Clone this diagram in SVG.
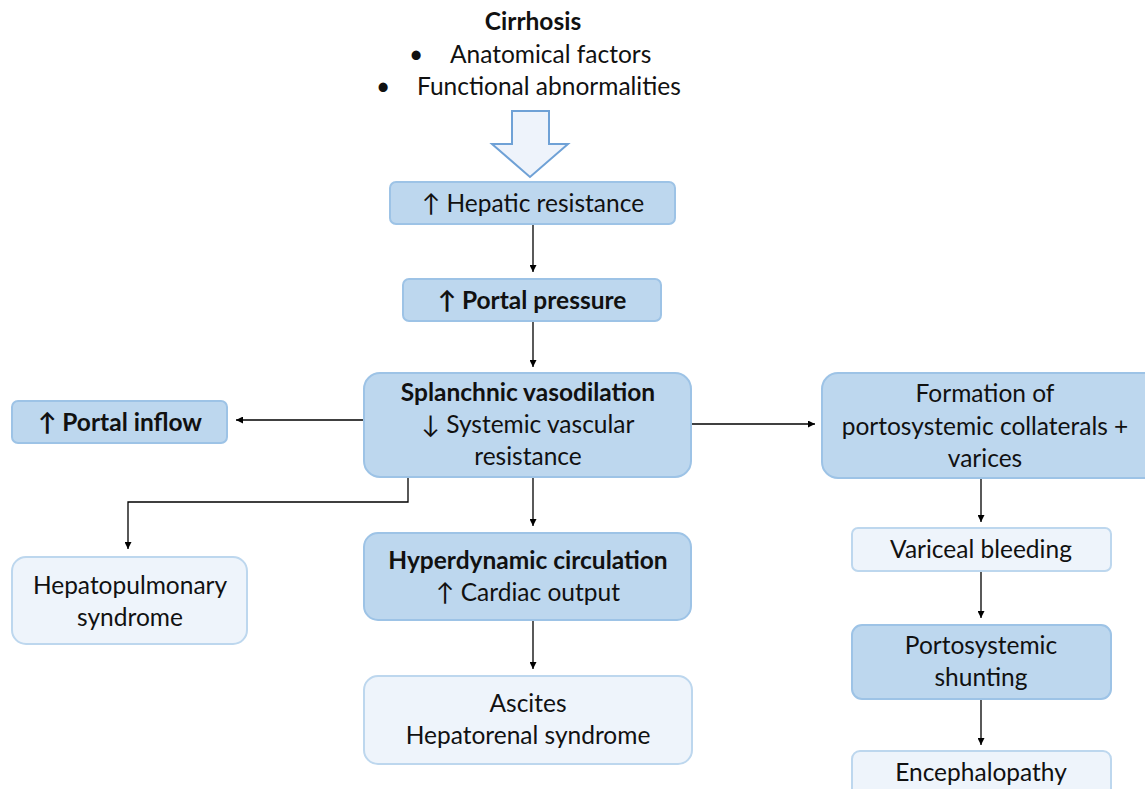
<svg xmlns="http://www.w3.org/2000/svg" width="1145" height="789" viewBox="0 0 1145 789">
<defs>
<style>
text{font-family:Lato,"Open Sans","Liberation Sans",sans-serif;font-size:24.5px;fill:#111;text-anchor:middle}
.b{font-weight:bold}
.dark{fill:#bdd7ee;stroke:#9dc3e6;stroke-width:2}
.light{fill:#eef4fb;stroke:#bdd7ee;stroke-width:2}
.c{fill:none;stroke:#000;stroke-width:1.3}
</style>
<marker id="ah" viewBox="0 0 10 10" refX="10" refY="5" markerWidth="7" markerHeight="7" markerUnits="userSpaceOnUse" orient="auto"><path d="M0,0 L10,5 L0,10 z" fill="#000"/></marker>
</defs>
<rect width="1145" height="789" fill="#fff"/>
<g id="cirrhosis">
<text x="533" y="30" class="b">Cirrhosis</text>
<text x="416" y="63">•</text>
<text x="450" y="63" style="text-anchor:start">Anatomical factors</text>
<text x="383" y="95">•</text>
<text x="417" y="95" style="text-anchor:start">Functional abnormalities</text>
<path d="M512,111 H549 V144 H568 L530,177 L492,144 H512 Z" fill="#eef3fb" stroke="#6fa1d6" stroke-width="2"/>
</g>
<g id="connectors">
<line class="c" x1="533" y1="224" x2="533" y2="272" marker-end="url(#ah)"/>
<line class="c" x1="533" y1="321" x2="533" y2="367" marker-end="url(#ah)"/>
<line class="c" x1="364" y1="420" x2="236" y2="420" marker-end="url(#ah)"/>
<line class="c" x1="691" y1="424" x2="815" y2="424" marker-end="url(#ah)"/>
<polyline class="c" points="408,477 408,502 128,502 128,549" marker-end="url(#ah)"/>
<line class="c" x1="533" y1="477" x2="533" y2="526" marker-end="url(#ah)"/>
<line class="c" x1="533" y1="620" x2="533" y2="669" marker-end="url(#ah)"/>
<line class="c" x1="981" y1="478" x2="981" y2="522" marker-end="url(#ah)"/>
<line class="c" x1="981" y1="571" x2="981" y2="618" marker-end="url(#ah)"/>
<line class="c" x1="981" y1="699" x2="981" y2="745" marker-end="url(#ah)"/>
</g>
<g id="hepatic">
<rect class="dark" x="390" y="182" width="285" height="42" rx="6"/>
<text x="533" y="212">↑ Hepatic resistance</text>
</g>
<g id="portal-pressure">
<rect class="dark" x="403" y="279" width="258" height="42" rx="6"/>
<text x="532" y="309" class="b">↑ Portal pressure</text>
</g>
<g id="splanchnic">
<rect class="dark" x="364" y="373" width="327" height="104" rx="16"/>
<text x="528" y="401" class="b">Splanchnic vasodilation</text>
<text x="528" y="433">↓ Systemic vascular</text>
<text x="528" y="465">resistance</text>
</g>
<g id="portal-inflow">
<rect class="dark" x="12" y="401" width="215" height="42" rx="6"/>
<text x="120" y="431" class="b">↑ Portal inflow</text>
</g>
<g id="formation">
<rect class="dark" x="822" y="373" width="340" height="105" rx="16"/>
<text x="985" y="402">Formation of</text>
<text x="985" y="435">portosystemic collaterals +</text>
<text x="985" y="467">varices</text>
</g>
<g id="hyperdynamic">
<rect class="dark" x="364" y="533" width="327" height="87" rx="14"/>
<text x="528" y="569" class="b">Hyperdynamic circulation</text>
<text x="528" y="601">↑ Cardiac output</text>
</g>
<g id="ascites">
<rect class="light" x="364" y="676" width="328" height="88" rx="14"/>
<text x="528" y="712">Ascites</text>
<text x="528" y="744">Hepatorenal syndrome</text>
</g>
<g id="hepatopulmonary">
<rect class="light" x="12" y="557" width="235" height="87" rx="14"/>
<text x="130" y="594">Hepatopulmonary</text>
<text x="130" y="626">syndrome</text>
</g>
<g id="variceal">
<rect class="light" x="852" y="528" width="259" height="43" rx="6"/>
<text x="981" y="558">Variceal bleeding</text>
</g>
<g id="shunting">
<rect class="dark" x="852" y="625" width="259" height="74" rx="10"/>
<text x="981" y="654">Portosystemic</text>
<text x="981" y="686">shunting</text>
</g>
<g id="encephalopathy">
<rect class="light" x="852" y="751" width="259" height="60" rx="8"/>
<text x="981" y="781">Encephalopathy</text>
</g>
</svg>
